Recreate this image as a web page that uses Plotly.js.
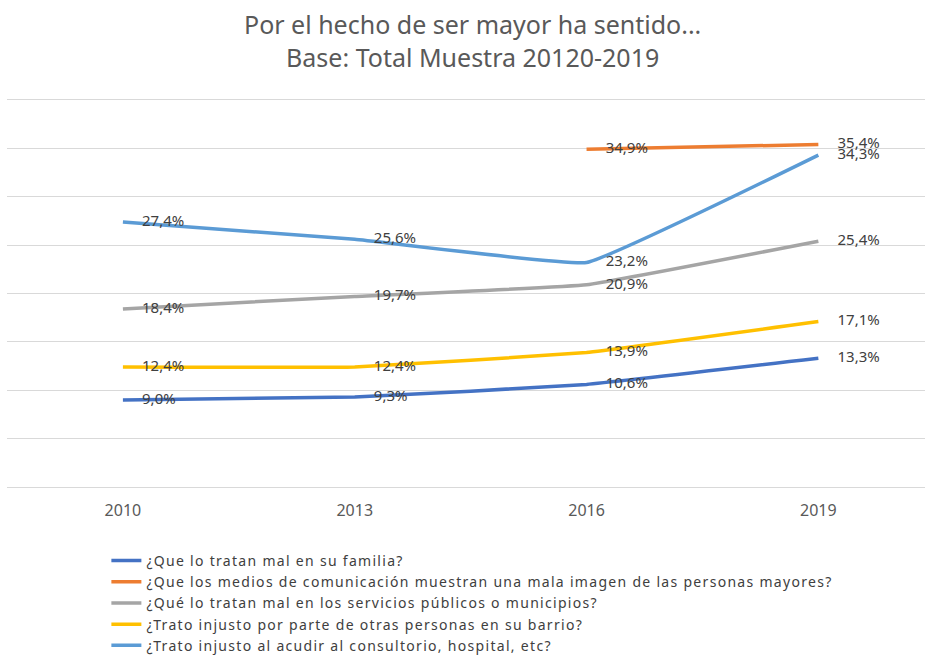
<!DOCTYPE html>
<html>
<head>
<meta charset="utf-8">
<script src="https://cdn.plot.ly/plotly-3.0.1.min.js"></script>
<style>
html,body{margin:0;padding:0;background:#fff;}
#chart{width:925px;height:655px;}
.legendtext{letter-spacing:1.3px;}
</style>
</head>
<body>
<div id="chart"></div>
<script>
var years = ['2010', '2013', '2016', '2019'];
var seriesNames = [
  '¿Que lo tratan mal en su familia?',
  '¿Que los medios de comunicación muestran una mala imagen de las personas mayores?',
  '¿Qué lo tratan mal en los servicios públicos o municipios?',
  '¿Trato injusto por parte de otras personas en su barrio?',
  '¿Trato injusto al acudir al consultorio, hospital, etc?'
];
var familia = [9.0, 9.3, 10.6, 13.3];
var medios = [null, null, 34.9, 35.4];
var servicios = [18.4, 19.7, 20.9, 25.4];
var barrio = [12.4, 12.4, 13.9, 17.1];
var consultorio = [27.4, 25.6, 23.2, 34.3];
var seriesValues = [familia, medios, servicios, barrio, consultorio];
var colors = ['#4472C4', '#ED7D31', '#A5A5A5', '#FFC000', '#5B9BD5'];

function fmt(v) { return v === null ? '' : v.toFixed(1).replace('.', ',') + '%'; }

var traces = seriesValues.map(function (vals, i) {
  return {
    type: 'scatter',
    mode: 'lines+markers+text',
    x: years,
    y: vals,
    name: seriesNames[i],
    legendgroup: 'g' + i,
    text: vals.map(fmt),
    textposition: 'middle right',
    textfont: { family: 'Noto Sans, sans-serif', size: 15, color: '#404040' },
    line: { color: colors[i], width: 3.5, shape: 'spline', smoothing: 0.25 },
    marker: { size: 29, color: 'rgba(0,0,0,0)', line: { width: 0 } },
    connectgaps: false,
    hoverinfo: 'skip'
  };
});

var layout = {
  width: 925,
  height: 655,
  margin: { l: 7, r: 0, t: 98, b: 166, autoexpand: false },
  paper_bgcolor: '#ffffff',
  plot_bgcolor: '#ffffff',
  font: { family: 'Noto Sans, sans-serif', color: '#595959' },
  title: {
    text: 'Por el hecho de ser mayor ha sentido...<br>Base: Total Muestra 20120-2019',
    font: { family: 'Noto Sans, sans-serif', size: 25, color: '#595959' },
    x: 0.511, xref: 'container', xanchor: 'center',
    y: 0.948, yref: 'container', yanchor: 'top',
    automargin: false
  },
  xaxis: {
    type: 'category',
    range: [-0.5, 3.46],
    showgrid: false,
    zeroline: false,
    showline: false,
    ticks: 'outside',
    ticklen: 7,
    tickcolor: 'rgba(0,0,0,0)',
    tickfont: { family: 'Noto Sans, sans-serif', size: 16, color: '#595959' },
    automargin: false,
    fixedrange: true
  },
  yaxis: {
    range: [-0.2, 40.2],
    dtick: 5,
    tick0: 0,
    showgrid: true,
    gridcolor: '#D9D9D9',
    gridwidth: 1,
    zeroline: true,
    zerolinecolor: '#D9D9D9',
    zerolinewidth: 1,
    showline: false,
    showticklabels: false,
    ticks: '',
    automargin: false,
    fixedrange: true
  },
  showlegend: true,
  legend: {
    orientation: 'v',
    xref: 'container', yref: 'container',
    x: 0.115, xanchor: 'left',
    y: 0.168, yanchor: 'top',
    font: { family: 'Noto Sans, sans-serif', size: 14, color: '#404040' },
    tracegroupgap: 0,
    itemwidth: 30,
    bgcolor: 'rgba(0,0,0,0)'
  }
};

Plotly.newPlot('chart', traces, layout, { displayModeBar: false, staticPlot: true });
</script>
</body>
</html>
